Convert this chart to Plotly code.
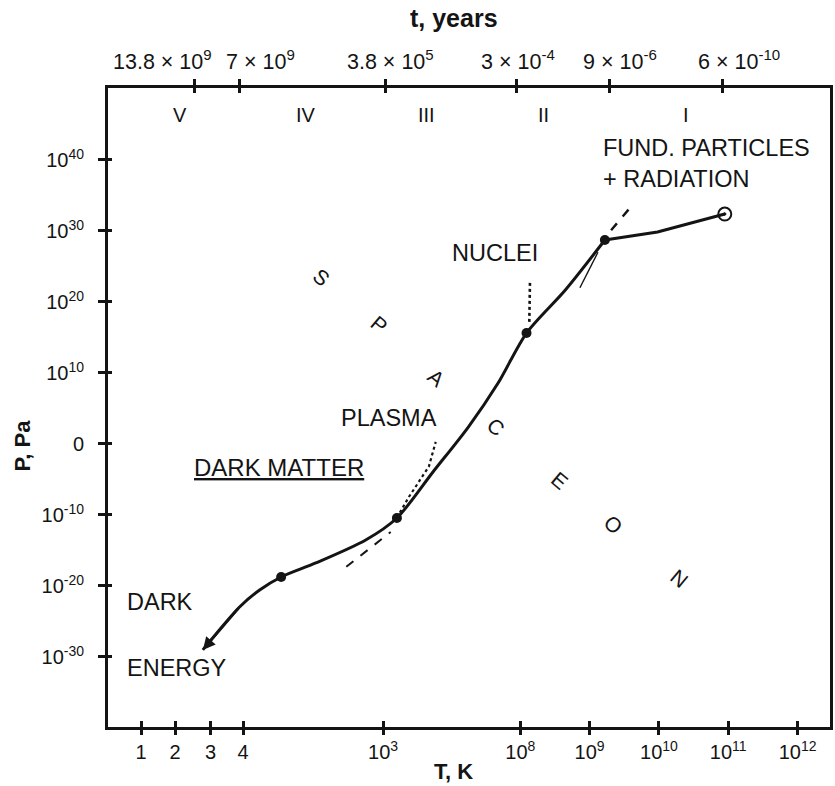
import plotly.graph_objects as go

FONT = "Liberation Sans, Arial, sans-serif"
INK = "#141414"

# Temperature axis: hand-ruled, non-uniform scale (positions in scale units)
temp_tick_pos = [2.53, 3.02, 3.53, 4.0, 6.02, 8.0, 9.0, 10.0, 11.0, 12.0]
temp_tick_text = ["1", "2", "3", "4", "10<sup>3</sup>", "10<sup>8</sup>",
                  "10<sup>9</sup>", "10<sup>10</sup>", "10<sup>11</sup>", "10<sup>12</sup>"]

# Age of the universe on the same scale (tick marks and where each label sits)
age_tick_pos = [3.30, 3.95, 6.06, 7.94, 9.28, 10.92]
age_label_pos = [2.84, 4.25, 6.13, 7.96, 9.44, 11.15]
age_tick_text = ["13.8 × 10<sup>9</sup>", "7 × 10<sup>9</sup>", "3.8 × 10<sup>5</sup>",
                 "3 × 10<sup>-4</sup>", "9 × 10<sup>-6</sup>", "6 × 10<sup>-10</sup>"]

# Pressure, log10(P / Pa)
pres_tick_pos = [40, 30, 20, 10, 0, -10, -20, -30]
pres_tick_text = ["10<sup>40</sup>", "10<sup>30</sup>", "10<sup>20</sup>", "10<sup>10</sup>",
                  "0", "10<sup>-10</sup>", "10<sup>-20</sup>", "10<sup>-30</sup>"]

# Epochs
era_names = ["V", "IV", "III", "II", "I"]
era_pos = [3.09, 4.91, 6.65, 8.33, 10.39]

# Evolution path (scale position, log10 P)
path_x = [3.42, 3.95, 4.24, 4.55, 5.05, 5.77, 6.22, 6.74, 7.25, 7.68, 8.09, 8.65, 9.22]
path_logp = [-29.0, -22.96, -20.56, -18.73, -16.76, -13.52, -10.42, -3.94, 2.39, 8.59, 15.63, 21.69, 28.73]
last_x = [9.22, 9.98, 10.95]
last_logp = [28.73, 29.86, 32.39]

# Transition nodes
node_x = [4.55, 6.22, 8.09, 9.22]
node_logp = [-18.73, -10.42, 15.63, 28.73]
end_x = [10.95]
end_logp = [32.39]

# Auxiliary estimates
dash_a_x = [5.49, 6.13]
dash_a_logp = [-17.3, -12.4]
dot_plasma_x = [6.22, 6.39, 6.68, 6.78]
dot_plasma_logp = [-10.4, -7.5, -3.2, 0.3]
dot_nuclei_x = [8.13, 8.14]
dot_nuclei_logp = [17.2, 23.1]
dash_b_x = [9.31, 9.62]
dash_b_logp = [30.1, 33.7]
thin_x = [8.86, 9.12]
thin_logp = [22.0, 27.0]

# Region labels
spaceon_letters = ["S", "P", "A", "C", "E", "O", "N"]
spaceon_x = [5.13, 5.96, 6.78, 7.64, 8.57, 9.34, 10.30]
spaceon_logp = [23.4, 16.8, 9.3, 2.4, -5.1, -11.4, -18.9]

X_RANGE = [2.052, 12.468]
Y_RANGE = [-39.86, 50.14]

fig = go.Figure()

fig.add_trace(go.Scatter(x=path_x, y=path_logp, mode="lines",
                         line=dict(color=INK, width=3, shape="spline", smoothing=0.8),
                         hoverinfo="skip", showlegend=False))
fig.add_trace(go.Scatter(x=last_x, y=last_logp, mode="lines",
                         line=dict(color=INK, width=3),
                         hoverinfo="skip", showlegend=False))
for xs, ys, dash, w in [(dash_a_x, dash_a_logp, "dash", 2),
                        (dot_plasma_x, dot_plasma_logp, "dot", 2.2),
                        (dot_nuclei_x, dot_nuclei_logp, "dot", 2.6),
                        (dash_b_x, dash_b_logp, "dash", 2.4),
                        (thin_x, thin_logp, "solid", 1.4)]:
    fig.add_trace(go.Scatter(x=xs, y=ys, mode="lines",
                             line=dict(color=INK, width=w, dash=dash),
                             hoverinfo="skip", showlegend=False))

fig.add_trace(go.Scatter(x=node_x, y=node_logp, mode="markers",
                         marker=dict(color=INK, size=10, symbol="circle"),
                         hoverinfo="skip", showlegend=False))
fig.add_trace(go.Scatter(x=end_x, y=end_logp, mode="markers",
                         marker=dict(color=INK, size=13, symbol="circle-open-dot",
                                     line=dict(width=2, color=INK)),
                         hoverinfo="skip", showlegend=False))

# Placeholder traces so the extra tick axes are drawn
for xa, ya in [("x2", "y"), ("x3", "y"), ("x4", "y"), ("x", "y2")]:
    fig.add_trace(go.Scatter(x=[None], y=[None], xaxis=xa, yaxis=ya,
                             mode="lines", hoverinfo="skip", showlegend=False))

tick_font = dict(family=FONT, size=20, color=INK)

fig.update_layout(
    width=835, height=786,
    margin=dict(l=108, r=2, t=88, b=59),
    paper_bgcolor="white", plot_bgcolor="white",
    showlegend=False,
    xaxis=dict(range=X_RANGE, showgrid=False, zeroline=False,
               showline=True, linewidth=3, linecolor=INK,
               tickmode="array", tickvals=temp_tick_pos, ticktext=temp_tick_text,
               ticks="outside", ticklen=5, tickwidth=2.5, tickcolor=INK,
               tickfont=tick_font, ticklabelstandoff=0),
    xaxis2=dict(range=X_RANGE, overlaying="x", side="top", showgrid=False, zeroline=False,
                showline=True, linewidth=3, linecolor=INK,
                tickmode="array", tickvals=age_tick_pos,
                ticks="outside", ticklen=6, tickwidth=2.5, tickcolor=INK,
                showticklabels=False),
    xaxis3=dict(range=X_RANGE, overlaying="x", side="bottom", showgrid=False, zeroline=False,
                showline=False, tickmode="array", tickvals=temp_tick_pos,
                ticks="inside", ticklen=6, tickwidth=2.5, tickcolor=INK,
                showticklabels=False),
    xaxis4=dict(range=X_RANGE, overlaying="x", side="top", showgrid=False, zeroline=False,
                showline=False, tickmode="array", tickvals=age_tick_pos,
                ticks="inside", ticklen=5, tickwidth=2.5, tickcolor=INK,
                showticklabels=False),
    yaxis=dict(range=Y_RANGE, showgrid=False, zeroline=False,
               showline=True, linewidth=3, linecolor=INK, mirror=True,
               tickmode="array", tickvals=pres_tick_pos, ticktext=pres_tick_text,
               ticks="outside", ticklen=7, tickwidth=2.5, tickcolor=INK,
               tickfont=tick_font, ticklabelstandoff=10),
    yaxis2=dict(range=Y_RANGE, overlaying="y", side="left", showgrid=False, zeroline=False,
                showline=False, tickmode="array", tickvals=pres_tick_pos,
                ticks="inside", ticklen=4, tickwidth=2.5, tickcolor=INK,
                showticklabels=False),
)

ann = []
# Axis titles
ann.append(dict(text="<b>t, years</b>", x=0.4786, y=1.1096, xref="paper", yref="paper",
                xanchor="center", yanchor="middle",
                showarrow=False, font=dict(family=FONT, size=25, color=INK)))
ann.append(dict(text="<b>T, K</b>", x=0.4786, y=-0.0704, xref="paper", yref="paper",
                xanchor="center", yanchor="middle",
                showarrow=False, font=dict(family=FONT, size=22, color=INK)))
ann.append(dict(text="<b>P, Pa</b>", x=-0.1186, y=0.441, xref="paper", yref="paper",
                xanchor="center", yanchor="middle",
                textangle=-90, showarrow=False, font=dict(family=FONT, size=22, color=INK)))

# Age labels above the top rule
for txt, xp in zip(age_tick_text, age_label_pos):
    ann.append(dict(text=txt, x=xp, y=1.0438, xref="x", yref="paper",
                    xanchor="center", yanchor="middle", showarrow=False,
                    font=dict(family=FONT, size=21.5, color=INK)))

# Epoch numerals
for name, xp in zip(era_names, era_pos):
    ann.append(dict(text=name, x=xp, y=46.3, xref="x", yref="y", showarrow=False,
                    xanchor="center", yanchor="middle",
                    font=dict(family=FONT, size=20, color=INK)))

label_font = dict(family=FONT, size=23.5, color=INK)
ann.append(dict(text="FUND. PARTICLES<br>+ RADIATION", x=9.16, y=39.5, xref="x", yref="y",
                xanchor="left", yanchor="middle", align="left", showarrow=False, font=label_font))
ann.append(dict(text="NUCLEI", x=7.63, y=26.9, xref="x", yref="y", showarrow=False,
                xanchor="center", yanchor="middle", font=label_font))
ann.append(dict(text="PLASMA", x=6.10, y=3.66, xref="x", yref="y", showarrow=False,
                xanchor="center", yanchor="middle", font=label_font))
ann.append(dict(text="DARK MATTER", x=4.52, y=-3.38, xref="x", yref="y", showarrow=False,
                xanchor="center", yanchor="middle",
                font=dict(family=FONT, size=24, color=INK, lineposition="under")))
ann.append(dict(text="DARK", x=2.296, y=-22.25, xref="x", yref="y", xanchor="left",
                yanchor="middle", showarrow=False, font=label_font))
ann.append(dict(text="ENERGY", x=2.296, y=-31.5, xref="x", yref="y", xanchor="left",
                yanchor="middle", showarrow=False, font=label_font))

for ch, xp, yp in zip(spaceon_letters, spaceon_x, spaceon_logp):
    ann.append(dict(text=ch, x=xp, y=yp, xref="x", yref="y", textangle=40,
                    xanchor="center", yanchor="middle",
                    showarrow=False, font=dict(family=FONT, size=21, color=INK)))

# Arrow into dark energy at the start of the path
ann.append(dict(text="", x=path_x[0], y=path_logp[0], ax=path_x[1], ay=path_logp[1],
                xref="x", yref="y", axref="x", ayref="y", showarrow=True,
                arrowhead=2, arrowsize=1, arrowwidth=2.5, arrowcolor=INK, standoff=0))

fig.update_layout(annotations=ann)

fig.write_html("out.html")
